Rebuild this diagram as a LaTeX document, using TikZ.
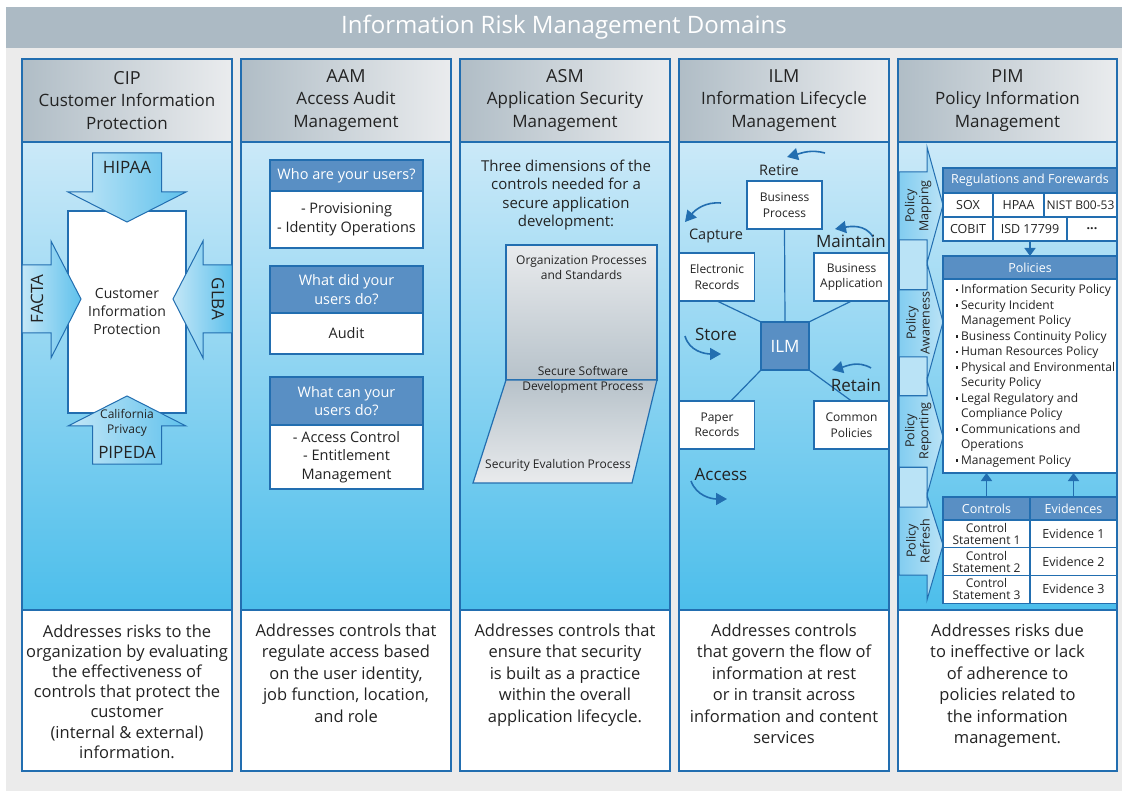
\documentclass[tikz,border=0pt]{standalone}
\usepackage{fontspec}
\setmainfont{Open Sans}
\usetikzlibrary{arrows.meta,positioning,calc}
\definecolor{ink}{RGB}{35,35,35}
\definecolor{page}{RGB}{235,235,235}
\definecolor{titlebar}{RGB}{172,186,196}
\definecolor{edge}{RGB}{34,110,176}
\definecolor{hdrleft}{RGB}{176,189,198}
\definecolor{hdrright}{RGB}{234,236,238}
\definecolor{skytop}{RGB}{203,233,248}
\definecolor{skybot}{RGB}{76,190,235}
\definecolor{steel}{RGB}{89,143,196}
\definecolor{paper}{RGB}{233,235,237}
\definecolor{slate}{RGB}{183,194,202}
\definecolor{arrlight}{RGB}{196,231,247}
\definecolor{arrdark}{RGB}{95,193,236}
\definecolor{striplight}{RGB}{186,227,246}
\definecolor{stripdark}{RGB}{130,205,240}
\newcommand{\sqb}{\makebox[5.5pt][l]{\rule[2.6pt]{2.6pt}{2.6pt}}}
\newcommand{\ind}{\hspace*{5.5pt}}
\tikzset{
  every picture/.style={x=1pt, y=-1pt, color=ink, line width=1.2pt},
  edgebox/.style={draw=edge, line width=1.2pt, outer sep=0pt, inner sep=0pt},
  hdr/.style={edgebox, left color=hdrleft, right color=hdrright, minimum width=210pt, minimum height=83pt, align=center, font=\fontsize{17}{22.5}\selectfont},
  panel/.style={edgebox, top color=skytop, bottom color=skybot, minimum width=210pt, minimum height=468pt},
  foot/.style={edgebox, fill=white, minimum width=210pt, minimum height=161pt},
  foottxt/.style={anchor=north, align=center, inner sep=0pt, font=\fontsize{16.5}{21.5}\selectfont},
  shield/.style={draw=edge, line width=1pt, left color=arrlight, right color=arrdark},
  law/.style={inner sep=0pt, font=\fontsize{17}{20}\selectfont},
  qhead/.style={edgebox, fill=steel, text=white, minimum width=153pt, align=center, font=\fontsize{14.5}{18.5}\selectfont},
  qbody/.style={edgebox, fill=white, minimum width=153pt, align=center, font=\fontsize{14.5}{18.5}\selectfont},
  lead/.style={align=center, inner sep=0pt, font=\fontsize{15}{18.5}\selectfont},
  smalltxt/.style={align=center, inner sep=0pt, font=\fontsize{12}{15.5}\selectfont},
  plate/.style={draw=edge, line width=1.2pt},
  ilmbox/.style={edgebox, fill=white, minimum width=75pt, minimum height=48pt, align=center, font=\fontsize{12}{15.5}\selectfont},
  hub/.style={edgebox, fill=steel, text=white, minimum width=48pt, minimum height=48pt, font=\fontsize{17}{20}\selectfont},
  spoke/.style={draw=edge, line width=1.2pt},
  cyc/.style={draw=edge, line width=1.6pt, -{Triangle[length=11pt,width=12pt]}},
  stage/.style={inner sep=0pt, font=\fontsize{14.5}{17}\selectfont},
  bigstage/.style={inner sep=0pt, font=\fontsize{17}{20}\selectfont},
  tagarrow/.style={draw=edge, line width=1pt, left color=stripdark, right color=striplight},
  gapbox/.style={draw=edge, line width=1pt, fill=striplight},
  phaselbl/.style={rotate=90, align=center, inner sep=0pt, font=\fontsize{12.5}{14}\selectfont},
  band/.style={edgebox, fill=steel, text=white, font=\fontsize{12.5}{15}\selectfont},
  gridcell/.style={edgebox, fill=white, minimum height=24pt, font=\fontsize{12.5}{15}\selectfont},
  tblrow/.style={edgebox, fill=white, minimum width=87pt, minimum height=27.7pt, align=center, font=\fontsize{12.5}{15}\selectfont},
  flow/.style={draw=edge, line width=1.6pt, -{Triangle[length=8pt,width=11pt]}},
}

\begin{document}
\begin{tikzpicture}
  \useasboundingbox (0,0) rectangle (1122,791);
  \fill[page] (6,7) rectangle (1122,791);
  \node[fill=titlebar, minimum width=1116pt, minimum height=41pt, inner sep=0pt, text=white, font=\fontsize{24}{28}\selectfont] (title) at (564,27.5) {Information Risk Management Domains};

  \node[hdr] (cipH) at (127,100.5) {{\fontsize{18}{22.5}\selectfont CIP}\\Customer Information\\Protection};
  \node[panel, below=0pt of cipH] (cipP) {};
  \node[foot, below=0pt of cipP] (cipF) {};
  \node[hdr] (aamH) at (346,100.5) {{\fontsize{18}{22.5}\selectfont AAM}\\Access Audit\\Management};
  \node[panel, below=0pt of aamH] (aamP) {};
  \node[foot, below=0pt of aamP] (aamF) {};
  \node[hdr] (asmH) at (565,100.5) {{\fontsize{18}{22.5}\selectfont ASM}\\Application Security\\Management};
  \node[panel, below=0pt of asmH] (asmP) {};
  \node[foot, below=0pt of asmP] (asmF) {};
  \node[hdr] (ilmH) at (784,100.5) {{\fontsize{18}{22.5}\selectfont ILM}\\Information Lifecycle\\Management};
  \node[panel, below=0pt of ilmH] (ilmP) {};
  \node[foot, below=0pt of ilmP] (ilmF) {};
  \node[hdr, minimum width=219pt] (pimH) at (1007.5,100.5) {{\fontsize{18}{22.5}\selectfont PIM}\\Policy Information\\Management};
  \node[panel, minimum width=219pt, below=0pt of pimH] (pimP) {};
  \node[foot, minimum width=219pt, below=0pt of pimP] (pimF) {};

  \node[edgebox, fill=white, minimum width=118pt, minimum height=202pt, align=center, font=\fontsize{14}{18}\selectfont] (core) at (127,312) {Customer\\Information\\Protection};
  \draw[shield] (92.5,153) -- (161.5,153) -- (161.5,192) -- (186,192) -- (127,222) -- (68,192) -- (92.5,192) -- cycle;
  \draw[shield] (92.5,464) -- (161.5,464) -- (161.5,426) -- (186,426) -- (127,396) -- (68,426) -- (92.5,426) -- cycle;
  \draw[shield] (22,265) -- (51,265) -- (51,241) -- (81,299) -- (51,358) -- (51,333) -- (22,333) -- cycle;
  \draw[shield] (232,265) -- (203,265) -- (203,241) -- (173,299) -- (203,358) -- (203,333) -- (232,333) -- cycle;
  \node[law] (hipaa) at (127,167) {HIPAA};
  \node[law, rotate=90] (facta) at (37,299) {FACTA};
  \node[law, rotate=-90] (glba) at (218,299) {GLBA};
  \node[smalltxt, font=\fontsize{12}{15}\selectfont] (calif) at (127,422.5) {California\\Privacy};
  \node[law] (pipeda) at (127,452) {PIPEDA};

  \node[qhead, minimum height=31pt] (who) at (346.5,175.5) {Who are your users?};
  \node[qbody, minimum height=57pt, below=0pt of who] (whoB) {- Provisioning\\- Identity Operations};
  \node[qhead, minimum height=47pt] (did) at (346.5,289.5) {What did your\\users do?};
  \node[qbody, minimum height=41pt, below=0pt of did] (didB) {Audit};
  \node[qhead, minimum height=48pt] (can) at (346.5,401) {What can your\\users do?};
  \node[qbody, minimum height=64pt, below=0pt of can] (canB) {- Access Control\\- Entitlement\\Management};

  \node[lead] (asmT) at (566,195) {Three dimensions of the\\controls needed for a\\secure application\\development:};
  \node[edgebox, top color=paper, bottom color=slate, minimum width=151pt, minimum height=135pt] (org) at (581.5,312.5) {};
  \path[plate, top color=slate, bottom color=paper] (org.south west) -- (org.south east) -- ++(-25,103) coordinate (sevR) -- ++(-159,0) coordinate (sevL) -- cycle;
  \node[smalltxt] (orgT) at ([yshift=-22.5pt]org.north) {Organization Processes\\and Standards};
  \node[smalltxt] (ssdT) at (583,380) {Secure Software\\Development Process};
  \node[smalltxt] (sevT) at (558,465) {Security Evalution Process};

  \node[ilmbox] (bp) at (784.5,205) {Business\\Process};
  \node[ilmbox] (er) at (717,277) {Electronic\\Records};
  \node[ilmbox] (ba) at (851.5,277) {Business\\Application};
  \node[hub] (ilmc) at (785,346) {ILM};
  \node[ilmbox] (pr) at (717,425) {Paper\\Records};
  \node[ilmbox] (cp) at (851.5,425) {Common\\Policies};
  \draw[spoke] (bp.south) -- (ilmc.north);
  \draw[spoke] (er.south) -- (ilmc.north west);
  \draw[spoke] (ba.south) -- (ilmc.north east);
  \draw[spoke] (ilmc.south west) -- (pr.60);
  \draw[spoke] (ilmc.south east) -- (cp.north);
  \coordinate (retA) at (825,153); \coordinate (retB) at (787,157);
  \coordinate (capA) at (721,203); \coordinate (capB) at (685,222);
  \coordinate (mntA) at (873,237); \coordinate (mntB) at (835,229);
  \coordinate (stoA) at (685,336); \coordinate (stoB) at (721,354);
  \coordinate (rtnA) at (871,368); \coordinate (rtnB) at (832,370);
  \coordinate (accA) at (691,481); \coordinate (accB) at (727,499);
  \draw[cyc] (retA) to[out=165,in=15] (retB);
  \draw[cyc] (capA) to[out=175,in=50] (capB);
  \draw[cyc] (mntA) to[out=120,in=10] (mntB);
  \draw[cyc] (stoA) to[out=-75,in=180] (stoB);
  \draw[cyc] (rtnA) to[out=150,in=15] (rtnB);
  \draw[cyc] (accA) to[out=-70,in=180] (accB);
  \node[stage] (retL) at (779,170) {Retire};
  \node[stage] (capL) at (716,236) {Capture};
  \node[bigstage] (mntL) at (851,241) {Maintain};
  \node[bigstage] (stoL) at (716,334) {Store};
  \node[bigstage] (rtnL) at (856,385) {Retain};
  \node[bigstage] (accL) at (721,474) {Access};

  \foreach \ga/\gb in {240/290, 357/396, 467/507}
    \draw[gapbox] (899,\ga) rectangle (927,\gb);
  \foreach \sa/\sb/\ha/\hb/\tp in {172/240/147/263/205, 290/357/263/380/322, 396/467/380/495/437, 507/575/495/600/545}
    \draw[tagarrow] (899,\sa) -- (927,\sa) -- (927,\ha) -- (943,\tp) -- (927,\hb) -- (927,\sb) -- (899,\sb) -- cycle;
  \node[phaselbl] (mapL) at (918,206) {Policy\\Mapping};
  \node[phaselbl] (awaL) at (918,323) {Policy\\Awareness};
  \node[phaselbl] (repL) at (918,431) {Policy\\Reporting};
  \node[phaselbl] (refL) at (918,541) {Policy\\Refresh};

  \node[band, minimum width=174pt, minimum height=25pt] (regH) at (1030,180.5) {Regulations and Forewards};
  \node[gridcell, minimum width=50pt, below right=0pt and 0pt of regH.south west] (sox) {SOX};
  \node[gridcell, minimum width=51pt, right=0pt of sox] (hpaa) {HPAA};
  \node[gridcell, minimum width=73pt, right=0pt of hpaa, font=\fontsize{12}{15}\selectfont] (nist) {NIST B00-53};
  \node[gridcell, minimum width=50pt, below=0pt of sox] (cobit) {COBIT};
  \node[gridcell, minimum width=74pt, right=0pt of cobit] (isd) {ISD 17799};
  \node[gridcell, minimum width=50pt, right=0pt of isd] (more) {\textbf{...}};
  \node[band, minimum width=174pt, minimum height=23pt] (polH) at (1030,267.5) {Policies};
  \node[edgebox, fill=white, minimum width=174pt, minimum height=194pt, below=0pt of polH] (polB) {};
  \draw[flow] (isd.south) -- (polH.north);
  \node[anchor=north west, align=left, inner sep=0pt, font=\fontsize{12}{15.5}\selectfont] (polT) at (955,284) {\sqb Information Security Policy\\\sqb Security Incident\\\ind Management Policy\\\sqb Business Continuity Policy\\\sqb Human Resources Policy\\\sqb Physical and Environmental\\\ind Security Policy\\\sqb Legal Regulatory and\\\ind Compliance Policy\\\sqb Communications and\\\ind Operations\\\sqb Management Policy};
  \node[band, minimum width=87pt, minimum height=23pt] (ctlH) at (986.5,508.5) {Controls};
  \node[band, minimum width=87pt, minimum height=23pt, right=0pt of ctlH] (evH) {Evidences};
  \node[tblrow, below=0pt of ctlH, font=\fontsize{12}{12}\selectfont] (ctl1) {Control\\Statement 1};
  \node[tblrow, right=0pt of ctl1] (ev1) {Evidence 1};
  \node[tblrow, below=0pt of ctl1, font=\fontsize{12}{12}\selectfont] (ctl2) {Control\\Statement 2};
  \node[tblrow, right=0pt of ctl2] (ev2) {Evidence 2};
  \node[tblrow, below=0pt of ctl2, font=\fontsize{12}{12}\selectfont] (ctl3) {Control\\Statement 3};
  \node[tblrow, right=0pt of ctl3] (ev3) {Evidence 3};
  \draw[flow] (ctlH.north) -- (ctlH.north |- polB.south);
  \draw[flow] (evH.north) -- (evH.north |- polB.south);

  \node[foottxt, font=\fontsize{16.5}{20.2}\selectfont] (cipT) at ([yshift=-14pt]cipF.north) {Addresses risks to the\\organization by evaluating\\the effectiveness of\\controls that protect the\\customer\\(internal \& external)\\information.};
  \node[foottxt] (aamT) at ([yshift=-13pt]aamF.north) {Addresses controls that\\regulate access based\\on the user identity,\\job function, location,\\and role};
  \node[foottxt] (asmT2) at ([yshift=-13pt]asmF.north) {Addresses controls that\\ensure that security\\is built as a practice\\within the overall\\application lifecycle.};
  \node[foottxt] (ilmT) at ([yshift=-13pt]ilmF.north) {Addresses controls\\that govern the flow of\\information at rest\\or in transit across\\information and content\\services};
  \node[foottxt] (pimT) at ([yshift=-13pt]pimF.north) {Addresses risks due\\to ineffective or lack\\of adherence to\\policies related to\\the information\\management.};
\end{tikzpicture}
\end{document}
